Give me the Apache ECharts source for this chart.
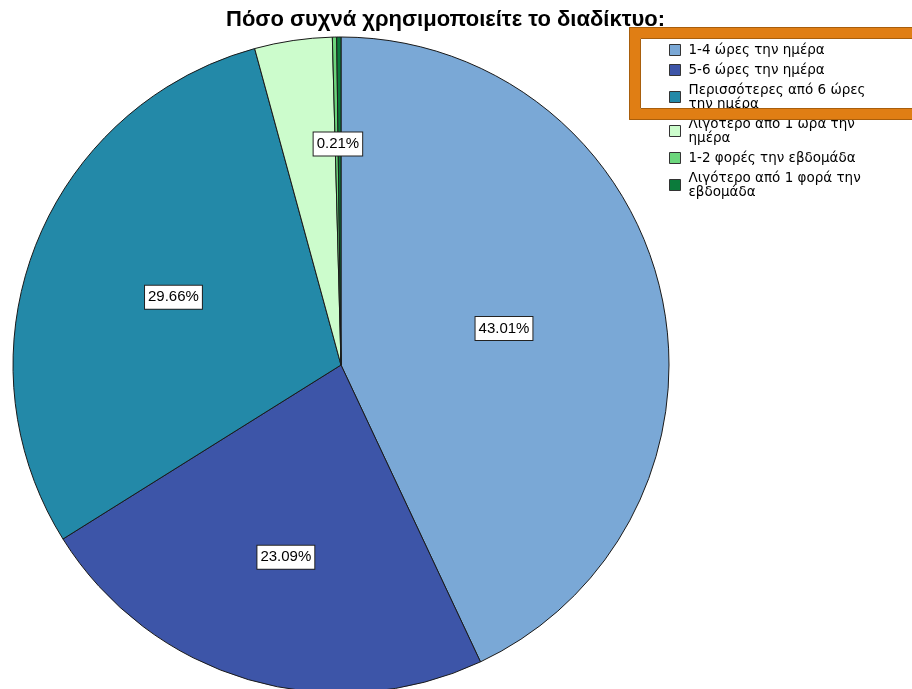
<!DOCTYPE html>
<html>
<head>
<meta charset="utf-8">
<script src="https://cdn.jsdelivr.net/npm/echarts@6/dist/echarts.min.js"></script>
<style>
  html, body { margin: 0; padding: 0; background: #ffffff; }
  #chart { width: 912px; height: 689px; }
</style>
</head>
<body>
<div id="chart"></div>
<script>
// Internet usage frequency — shares of respondents (%)
const categories = [
  '1-4 ώρες την ημέρα',
  '5-6 ώρες την ημέρα',
  'Περισσότερες από 6 ώρες την ημέρα',
  'Λιγότερο από 1 ώρα την ημέρα',
  '1-2 φορές την εβδομάδα',
  'Λιγότερο από 1 φορά την εβδομάδα'
];
const shares = [43.01, 23.09, 29.66, 3.82, 0.21, 0.21];
const sliceColors = ['#7aa8d6', '#3d55a8', '#2389a8', '#ccfccc', '#6cd67c', '#0b7b3b'];
// slices whose percentage label is drawn
const labelled = [true, true, true, false, false, true];
const titleText = 'Πόσο συχνά χρησιμοποιείτε το διαδίκτυο:';

const FONT = '"Liberation Sans", Arial, sans-serif';
const LEGEND_FONT = '"DejaVu Sans", Verdana, sans-serif';

// wrap a legend entry onto a second line once it passes maxChars
function wrapName(name, maxChars) {
  if (name.length <= maxChars) return name;
  const cut = name.lastIndexOf(' ', maxChars);
  return name.slice(0, cut) + '\n' + name.slice(cut + 1);
}

// label nudges (px) so each percentage sits near the body of its slice
const labelShift = {
  1: { dx: -8, dy: 32 },
  2: { dx: -12, dy: -7 },
  5: { dx: -2, dy: -54 }
};

const chart = echarts.init(document.getElementById('chart'), null, { renderer: 'canvas' });

const pieData = categories.map((name, i) => ({
  name,
  value: shares[i],
  itemStyle: { color: sliceColors[i] },
  label: { show: labelled[i] }
}));

chart.setOption({
  animation: false,
  backgroundColor: '#ffffff',
  title: {
    text: titleText,
    left: 226,
    top: 9,
    padding: 0,
    textStyle: { fontFamily: FONT, fontSize: 22, fontWeight: 'bold', color: '#000' }
  },
  legend: {
    orient: 'vertical',
    left: 669,
    top: 43,
    padding: 0,
    itemWidth: 11,
    itemHeight: 11,
    itemGap: 6,
    icon: 'rect',
    itemStyle: { borderColor: '#333', borderWidth: 1 },
    formatter: name => wrapName(name, 23),
    textStyle: {
      fontFamily: LEGEND_FONT,
      fontSize: 13.5,
      lineHeight: 14,
      color: '#000',
      padding: [0, 0, 0, 3]
    },
    data: categories
  },
  series: [{
    type: 'pie',
    center: [341, 365],
    radius: 328,
    startAngle: 90,
    clockwise: true,
    avoidLabelOverlap: false,
    itemStyle: { borderColor: '#1a1a1a', borderWidth: 1 },
    label: {
      position: 'inside',
      formatter: p => p.value.toFixed(2) + '%',
      fontFamily: FONT,
      fontSize: 15,
      color: '#000',
      backgroundColor: '#ffffff',
      borderColor: '#222',
      borderWidth: 1,
      padding: [4, 3, 4, 3]
    },
    labelLayout: p => labelShift[p.dataIndex] || {},
    emphasis: { disabled: true },
    data: pieData
  }],
  graphic: [
    {
      type: 'rect',
      z: 100,
      shape: { x: 634.5, y: 32.5, width: 290, height: 82 },
      style: { fill: 'none', stroke: '#e07e14', lineWidth: 11 }
    },
    {
      type: 'rect',
      z: 101,
      shape: { x: 629.5, y: 27.5, width: 300, height: 92 },
      style: { fill: 'none', stroke: '#a85e0c', lineWidth: 1 }
    },
    {
      type: 'rect',
      z: 101,
      shape: { x: 640.5, y: 38.5, width: 278, height: 70 },
      style: { fill: 'none', stroke: '#a85e0c', lineWidth: 1 }
    }
  ]
});
</script>
</body>
</html>
